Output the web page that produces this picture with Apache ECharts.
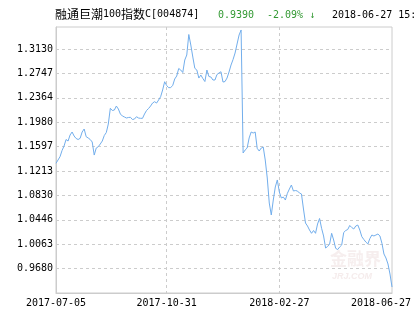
<!DOCTYPE html>
<html>
<head>
<meta charset="utf-8">
<script src="https://cdn.jsdelivr.net/npm/echarts@6/dist/echarts.min.js"></script>
<style>
  html, body { margin: 0; padding: 0; background: #fff; }
  #chart { width: 415px; height: 330px; }
</style>
</head>
<body>
<div id="chart"></div>
<script>
// 标题文字
var fundName = '融通巨潮100指数C[004874]'
var lastNav = '0.9390'
var changeText = '-2.09% ↓'
var timeText = '2018-06-27 15:00'

// x 轴只显示四个日期
var xTickLabels = ['2017-07-05', '2017-10-31', '2018-02-27', '2018-06-27']
var xTickIdx = [0, 55, 111, 167]

// y 轴刻度
var yTickLabels = ['0.9680', '1.0063', '1.0446', '1.0830', '1.1213', '1.1597', '1.1980', '1.2364', '1.2747', '1.3130']

// 净值 (从图上读的)
var navValues = [
  1.1334, 1.1386, 1.1438, 1.1535, 1.1606, 1.1708, 1.1684, 1.1779, 1.1826, 1.1763,
  1.1724, 1.1708, 1.1727, 1.1826, 1.1873, 1.1752, 1.1732, 1.1708, 1.1669, 1.1464,
  1.1574, 1.1595, 1.1637, 1.1684, 1.1771, 1.1818, 1.1951, 1.2198, 1.2164, 1.2171,
  1.2234, 1.2187, 1.2109, 1.2077, 1.2062, 1.2046, 1.2054, 1.2057, 1.2022, 1.2030,
  1.2066, 1.2046, 1.2041, 1.2041, 1.2109, 1.2164, 1.2195, 1.2234, 1.2281, 1.2302,
  1.2281, 1.2329, 1.2380, 1.2486, 1.2616, 1.2556, 1.2522, 1.2525, 1.2556, 1.2659,
  1.2706, 1.2824, 1.2800, 1.2761, 1.2957, 1.3036, 1.3358, 1.3193, 1.3004, 1.2827,
  1.2800, 1.2674, 1.2721, 1.2666, 1.2619, 1.2800, 1.2698, 1.2690, 1.2643, 1.2643,
  1.2729, 1.2753, 1.2773, 1.2611, 1.2619, 1.2674, 1.2769, 1.2879, 1.2965, 1.3067,
  1.3209, 1.3350, 1.3429, 1.1496, 1.1543, 1.1574, 1.1732, 1.1826, 1.1810, 1.1826,
  1.1570, 1.1527, 1.1574, 1.1590, 1.1386, 1.1103, 1.0710, 1.0522, 1.0757, 1.0962,
  1.1072, 1.0883, 1.0789, 1.0804, 1.0757, 1.0862, 1.0930, 1.0993, 1.0899, 1.0906,
  1.0899, 1.0867, 1.0852, 1.0616, 1.0396, 1.0349, 1.0286, 1.0234, 1.0278, 1.0234,
  1.0380, 1.0467, 1.0313, 1.0192, 1.0003, 1.0027, 1.0066, 1.0234, 1.0129, 0.9998,
  0.9979, 1.0019, 1.0050, 1.0247, 1.0278, 1.0294, 1.0357, 1.0325, 1.0302, 1.0349,
  1.0364, 1.0286, 1.0181, 1.0137, 1.0097, 1.0066, 1.0152, 1.0207, 1.0192, 1.0207,
  1.0223, 1.0192, 1.0077, 0.9909, 0.9846, 0.9752, 0.9594, 0.9390
]

var categories = navValues.map(function (v, i) { return String(i) })
var yTickValues = yTickLabels.map(Number)

// 标题里中文和数字用不同字体
function toRich(str) {
  return str.replace(/([\u4e00-\u9fa5]+)|([^\u4e00-\u9fa5]+)/g, function (m, cn) {
    return cn ? '{cn|' + m + '}' : '{en|' + m + '}'
  })
}

var monoFont = '"DejaVu Sans Mono", monospace'
var myChart = echarts.init(document.getElementById('chart'))

var option = {
  animation: false,
  backgroundColor: '#fff',
  grid: {
    left: 56,
    right: 23,
    top: 27,
    bottom: 37,
    show: true,
    borderColor: '#cccccc',
    borderWidth: 1
  },
  graphic: [
    {
      type: 'text', left: 55, top: 8,
      style: {
        text: toRich(fundName),
        rich: {
          cn: { fontSize: 12, fontFamily: '"Noto Sans CJK SC"', fill: '#000' },
          en: { fontSize: 10, fontFamily: monoFont, fill: '#000' }
        }
      }
    },
    { type: 'text', left: 218, top: 10, style: { text: lastNav, font: '10px ' + monoFont, fill: '#339933' } },
    { type: 'text', left: 267, top: 10, style: { text: changeText, font: '10px ' + monoFont, fill: '#339933' } },
    { type: 'text', left: 332, top: 10, style: { text: timeText, font: '10px ' + monoFont, fill: '#000' } },
    // 水印
    { type: 'text', left: 330, top: 250, silent: true, style: { text: '金融界', font: 'bold 17px "Noto Sans CJK SC"', fill: 'rgba(225,200,200,0.3)' } },
    { type: 'text', left: 332, top: 272, silent: true, style: { text: 'JRJ.COM', font: 'italic bold 9px sans-serif', fill: 'rgba(225,200,200,0.35)' } }
  ],
  xAxis: {
    type: 'category',
    data: categories,
    boundaryGap: false,
    axisLine: { lineStyle: { color: '#cccccc' } },
    axisTick: { show: false },
    axisLabel: {
      interval: function (i) { return xTickIdx.indexOf(i) >= 0 },
      margin: 5,
      color: '#000',
      fontSize: 10,
      fontFamily: monoFont,
      formatter: function (v, i) {
        var k = xTickIdx.indexOf(Number(v))
        if (k < 0) return ''
        if (k === xTickIdx.length - 1) return '{last|' + xTickLabels[k] + '}'
        return xTickLabels[k]
      },
      rich: {
        last: { padding: [0, 22, 0, 0], fontSize: 10, fontFamily: monoFont, color: '#000' }
      }
    },
    splitLine: {
      show: true,
      interval: function (i) { return i === xTickIdx[1] || i === xTickIdx[2] },
      lineStyle: { color: '#cccccc', type: [3, 3] }
    }
  },
  yAxis: {
    type: 'value',
    min: 0.9296,
    max: 1.3476,
    axisLine: { show: true, lineStyle: { color: '#cccccc' } },
    axisTick: { show: false, customValues: yTickValues },
    axisLabel: {
      customValues: yTickValues,
      margin: 3,
      color: '#000',
      fontSize: 10,
      fontFamily: monoFont,
      formatter: function (v) { return v.toFixed(4) }
    },
    splitLine: {
      show: true,
      customValues: yTickValues,
      lineStyle: { color: '#cccccc', type: [3, 3] }
    }
  },
  series: [
    {
      type: 'line',
      data: navValues,
      symbol: 'none',
      lineStyle: { color: '#72aeec', width: 1 }
    }
  ]
}

myChart.setOption(option)
</script>
</body>
</html>
